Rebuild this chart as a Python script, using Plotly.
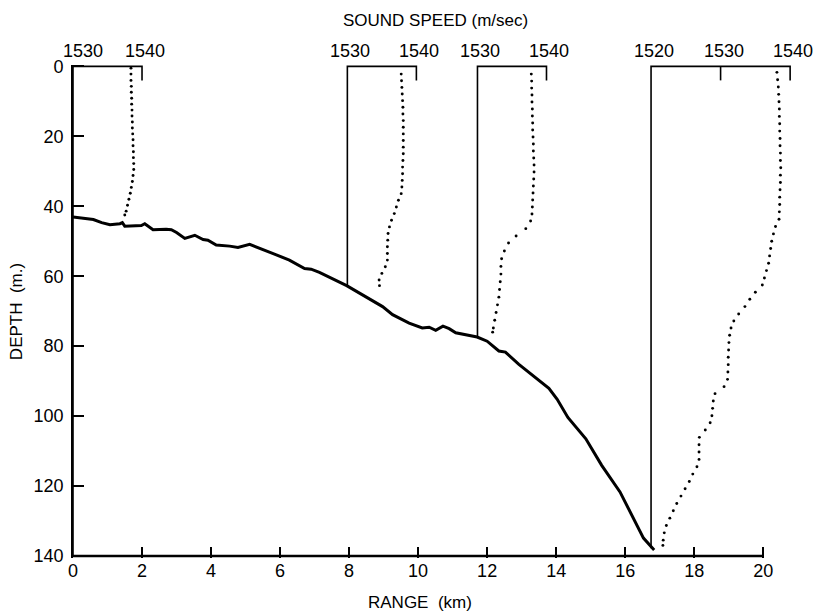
import plotly.graph_objects as go

# ---------------- data ----------------
# bathymetry (range km, depth m)
bathy_range = [0, 0.59, 0.83, 1.07, 1.36, 1.43, 1.5, 1.84, 1.98, 2.08, 2.32, 2.7, 2.85, 3.0, 3.24,
               3.53, 3.77, 3.91, 4.15, 4.54, 4.78, 5.12, 5.41, 5.69, 6.27, 6.71, 6.9, 7.14, 7.93,
               8.39, 8.97, 9.26, 9.74, 10.12, 10.32, 10.51, 10.72, 10.9, 11.09, 11.71, 12.0,
               12.34, 12.53, 12.92, 13.3, 13.79, 14.03, 14.34, 14.86, 15.32, 15.85, 16.23,
               16.53, 16.84]
bathy_depth = [43.1, 43.8, 44.7, 45.3, 45.0, 44.7, 45.7, 45.6, 45.5, 45.0, 46.7, 46.6, 46.7,
               47.5, 49.2, 48.3, 49.5, 49.7, 51.1, 51.4, 51.8, 50.9, 52.1, 53.1, 55.4, 57.8,
               58.0, 58.9, 62.7, 65.3, 68.7, 71.0, 73.4, 74.8, 74.6, 75.5, 74.3, 75.0, 76.2,
               77.4, 78.6, 81.4, 81.7, 85.2, 88.1, 92.1, 95.2, 100.4, 106.5, 114.1, 121.7,
               129.3, 134.9, 138.3]

# sound speed profiles: origin range (km) of base speed, base speed, km per m/s
prof_range0 = [0.0, 7.95, 11.72, 16.75]
prof_base = [1530, 1530, 1530, 1520]
prof_scale = [0.2, 0.2, 0.2, 0.2015]
prof_bottom = [140, 62.7, 77.4, 137.8]
prof_ticks = [[1530, 1540], [1530, 1540], [1530, 1540], [1520, 1530, 1540]]

p1_depth = [0.5, 2.2, 4, 5.7, 7.4, 9.1, 10.8, 12.5, 14.2, 15.9, 17.6, 19.3, 21, 22.7, 24.4,
            26.1, 27.8, 29.5, 31.2, 32.9, 34.6, 36.3, 38, 39.7, 41.4, 42.5]
p1_speed = [1538.4, 1538.4, 1538.4, 1538.45, 1538.45, 1538.5, 1538.5, 1538.55, 1538.55, 1538.6,
            1538.6, 1538.65, 1538.7, 1538.7, 1538.75, 1538.75, 1538.8, 1538.8, 1538.7, 1538.6,
            1538.45, 1538.3, 1538.1, 1537.9, 1537.7, 1537.5]

p2_depth = [2.2, 4.1, 6.0, 7.9, 9.8, 11.7, 13.6, 15.5, 17.4, 19.3, 21.2, 23.1, 25.0, 26.9, 28.8,
            30.7, 32.6, 34.5, 36.4, 38.3, 40.2, 42.1, 44.0, 45.9, 47.8, 49.7, 51.6, 53.5, 55.4,
            57.3, 59.2, 61.1, 62.7]
p2_speed = [1537.8, 1537.85, 1537.9, 1537.95, 1538.0, 1538.05, 1538.05, 1538.1, 1538.1, 1538.1,
            1538.1, 1538.1, 1538.1, 1538.05, 1538.0, 1538.0, 1537.95, 1537.9, 1537.8, 1537.4,
            1537.1, 1536.8, 1536.4, 1536.1, 1535.9, 1535.85, 1535.8, 1535.8, 1535.8, 1535.5,
            1535.0, 1534.6, 1534.65]

p3_depth = [2.2, 4.2, 6.2, 8.2, 10.2, 12.2, 14.2, 16.2, 18.2, 20.2, 22.2, 24.2, 26.2, 28.2, 30.2,
            32.2, 34.2, 36.2, 38.2, 40.2, 42.2, 44.2, 46.4, 48.5, 50.5, 52.8, 55.0, 57.2, 59.4,
            61.6, 63.8, 66.0, 68.2, 70.4, 72.6, 74.8, 76.0]
p3_speed = [1537.8, 1537.85, 1537.85, 1537.9, 1537.9, 1537.95, 1537.95, 1538.0, 1538.0, 1538.05,
            1538.1, 1538.1, 1538.15, 1538.2, 1538.2, 1538.15, 1538.1, 1538.05, 1538.0, 1537.95,
            1537.9, 1537.7, 1537.0, 1535.6, 1534.5, 1533.9, 1533.5, 1533.4, 1533.4, 1533.3,
            1533.2, 1533.1, 1532.9, 1532.7, 1532.5, 1532.3, 1532.2]

p4_depth = [1.7, 3.8, 5.9, 8.0, 10.1, 12.2, 14.3, 16.4, 18.5, 20.6, 22.7, 24.8, 26.9, 29.0, 31.1,
            33.2, 35.3, 37.4, 39.5, 41.6, 43.7, 45.8, 47.9, 50.0, 52.1, 54.2, 56.3, 58.4, 60.5,
            62.5, 64.6, 66.6, 68.7, 70.8, 72.8, 74.8, 76.9, 79.0, 81.1, 83.2, 85.3, 87.4, 89.5,
            91.6, 93.6, 95.7, 97.8, 99.9, 101.9, 104.0, 106.1, 108.2, 110.3, 112.4, 114.5,
            116.6, 118.7, 120.8, 122.9, 125.0, 127.1, 129.2, 131.3, 133.4, 135.5, 137.0]
p4_speed = [1538.1, 1538.2, 1538.3, 1538.35, 1538.4, 1538.45, 1538.45, 1538.5, 1538.5, 1538.55,
            1538.55, 1538.6, 1538.6, 1538.65, 1538.6, 1538.6, 1538.55, 1538.5, 1538.5, 1538.45,
            1538.4, 1537.9, 1537.6, 1537.35, 1537.2, 1537.05, 1536.9, 1536.6, 1536.3, 1536.0,
            1535.0, 1534.2, 1533.5, 1532.6, 1531.9, 1531.5, 1531.3, 1531.2, 1531.15, 1531.1,
            1531.1, 1531.05, 1531.0, 1530.5, 1529.2, 1528.95, 1528.85, 1528.75, 1528.5, 1527.8,
            1526.95, 1526.9, 1526.9, 1526.9, 1526.6, 1526.0, 1525.5, 1524.9, 1524.3, 1523.7,
            1523.2, 1522.7, 1522.2, 1521.9, 1521.75, 1521.7]

x_ticks = list(range(0, 21, 2))
y_ticks = list(range(0, 141, 20))
X_AXIS_END = 20
X_VIEW_MAX = 20.95

# ---------------- figure ----------------
FONT = "Liberation Sans"
fig = go.Figure()

def to_range(i, s):
    return prof_range0[i] + (s - prof_base[i]) * prof_scale[i]

profiles = [(p1_depth, p1_speed), (p2_depth, p2_speed), (p3_depth, p3_speed), (p4_depth, p4_speed)]
TICK_D = 4.0
annotations = []
for i, (dep, spd) in enumerate(profiles):
    ticks = prof_ticks[i]
    xl = to_range(i, ticks[0])
    xr = to_range(i, ticks[-1])
    fig.add_trace(go.Scatter(x=[xr, xr, xl, xl], y=[TICK_D, 0, 0, prof_bottom[i]],
                             mode="lines", line=dict(color="black", width=1.6),
                             hoverinfo="skip", showlegend=False))
    for t in ticks[1:-1]:
        xm = to_range(i, t)
        fig.add_trace(go.Scatter(x=[xm, xm], y=[0, TICK_D], mode="lines",
                                 line=dict(color="black", width=1.6),
                                 hoverinfo="skip", showlegend=False))
    fig.add_trace(go.Scatter(x=[to_range(i, s) for s in spd], y=dep, mode="markers",
                             marker=dict(color="black", size=2.9),
                             hoverinfo="skip", showlegend=False))
    for j, t in enumerate(ticks):
        shift = 3
        if i == 0 and j == 0:
            shift = 10
        annotations.append(dict(x=to_range(i, t), y=1, xref="x", yref="paper",
                                text=str(t), showarrow=False, yanchor="bottom",
                                xanchor="center", xshift=shift, yshift=2,
                                font=dict(family=FONT, size=18, color="black")))

fig.add_trace(go.Scatter(x=bathy_range, y=bathy_depth, mode="lines",
                         line=dict(color="black", width=3),
                         hoverinfo="skip", showlegend=False))

# x-axis baseline from 0 to 20 km only
fig.add_trace(go.Scatter(x=[0, X_AXIS_END], y=[140, 140], mode="lines",
                         line=dict(color="black", width=2.5),
                         hoverinfo="skip", showlegend=False))

annotations.append(dict(x=(435 - 73) / (822 - 73 - 26), y=1, xref="paper", yref="paper",
                        xanchor="center", yanchor="bottom", yshift=33, showarrow=False,
                        text="SOUND SPEED (m/sec)",
                        font=dict(family=FONT, size=17, color="black")))
annotations.append(dict(x=(420 - 73) / (822 - 73 - 26), y=0, xref="paper", yref="paper",
                        xanchor="center", yanchor="top", yshift=-33, showarrow=False,
                        text="RANGE  (km)",
                        font=dict(family=FONT, size=17, color="black")))

fig.update_layout(
    width=822, height=612,
    margin=dict(l=73, r=26, t=65, b=54),
    paper_bgcolor="white", plot_bgcolor="white",
    annotations=annotations,
    xaxis=dict(range=[0, X_VIEW_MAX], tickvals=x_ticks, ticks="inside", ticklen=11,
               tickwidth=1.5, tickcolor="black", showline=False,
               showgrid=False, zeroline=False,
               tickfont=dict(family=FONT, size=18, color="black")),
    yaxis=dict(range=[140.6, -0.4], tickvals=y_ticks, ticks="inside", ticklen=11, tickwidth=1.5,
               tickcolor="black", showline=True, linecolor="black", linewidth=1.6,
               showgrid=False, zeroline=False, ticklabelstandoff=4,
               tickfont=dict(family=FONT, size=18, color="black"),
               title=dict(text="DEPTH  (m.)", font=dict(family=FONT, size=17, color="black"),
                          standoff=7)),
)

fig.write_html("out.html")
